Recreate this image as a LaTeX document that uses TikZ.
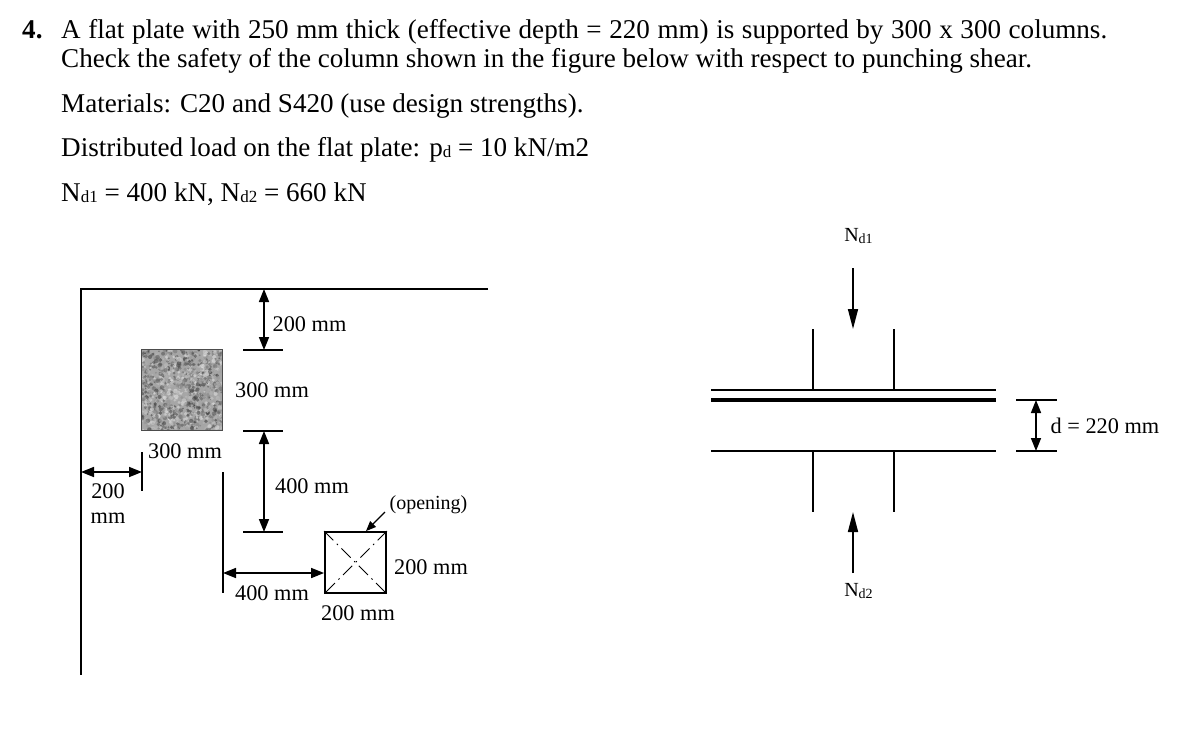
\documentclass[tikz,border=0pt]{standalone}
\usepackage{fontspec}
\setmainfont{Liberation Serif}
\usepackage{tikz}
\usetikzlibrary{arrows.meta}
\newcommand{\lowtxt}[1]{\raisebox{-1pt}{\fontsize{17}{17}\selectfont #1}}
\newcommand{\lowfig}[1]{\raisebox{-1.5pt}{\fontsize{14}{14}\selectfont #1}}
\tikzset{
  bodytxt/.style={anchor=base west,inner sep=0pt,font=\fontsize{27.1}{30}\selectfont},
  figtxt/.style={inner sep=0pt,font=\fontsize{22.3}{24}\selectfont},
  ln/.style={line width=1.8pt},
  dim/.style={line width=1.6pt,{Triangle[length=13pt,width=10pt]}-{Triangle[length=13pt,width=10pt]}},
  load/.style={line width=1.6pt,-{Triangle[length=20pt,width=10pt]}},
  crossln/.style={line width=1pt,dash pattern=on 13pt off 5pt on 1.5pt off 5pt},
}
\begin{document}
\begin{tikzpicture}[x=1pt,y=-1pt]
 \useasboundingbox (0,0) rectangle (1180,732);
 % question text
 \draw (22,38) node[bodytxt] (num) {\textbf{4.}};
 \draw (61,38) node[bodytxt] (line1) {\makebox[1046pt][s]{A flat plate with 250 mm thick (effective depth = 220 mm) is supported by 300 x 300 columns.}};
 \draw (61,67) node[bodytxt] (line2) {Check the safety of the column shown in the figure below with respect to punching shear.};
 \draw (61,112) node[bodytxt] (line3) {Materials: C20 and S420 (use design strengths).};
 \draw (61,156) node[bodytxt] (line4) {Distributed load on the flat plate: p\lowtxt{d} = 10 kN/m2};
 \draw (61,201) node[bodytxt] (line5) {N\lowtxt{d1} = 400 kN, N\lowtxt{d2} = 660 kN};

 % plan
 \coordinate (edgeo) at (81,289);
 \coordinate (edgee) at (488,289);
 \coordinate (edges) at (81,675);
 \draw[ln] (edgee) -- (edgeo) -- (edges);

 \draw (182,390) node[fill=black!35,minimum size=81pt,inner sep=0pt] (column) {};
 \begin{scope}
  \clip (column.south west) rectangle (column.north east);
  \pgfmathsetseed{42}
  \foreach \i in {1,...,1100} {
    \pgfmathsetmacro{\spotx}{142+rnd*80}
    \pgfmathsetmacro{\spoty}{350+rnd*80}
    \pgfmathsetmacro{\spotc}{8+rnd*72}
    \pgfmathsetmacro{\spotr}{0.8+rnd*1.5}
    \fill[black!\spotc!white,opacity=.55] (\spotx,\spoty) circle (\spotr pt);
  }
 \end{scope}
 \draw[black!70,line width=1pt] (column.south west) rectangle (column.north east);

 \coordinate (tickaw) at (243,350);
 \coordinate (tickae) at (283,350);
 \coordinate (tickbw) at (243,431);
 \coordinate (tickbe) at (283,431);
 \coordinate (tickcw) at (243,532);
 \coordinate (tickce) at (283,532);
 \coordinate (arrowo) at (264,289);
 \coordinate (arrowa) at (264,350);
 \coordinate (arrowb) at (264,431);
 \coordinate (arrowc) at (264,532);
 \path[ln] (tickaw) edge (tickae);
 \path[ln] (tickbw) edge (tickbe);
 \path[ln] (tickcw) edge (tickce);
 \path[dim] (arrowo) edge (arrowa);
 \path[dim] (arrowb) edge (arrowc);

 \coordinate (tickdn) at (142,452);
 \coordinate (tickds) at (142,491);
 \coordinate (tickfn) at (223,472);
 \coordinate (tickfs) at (223,593);
 \coordinate (arrowd) at (81,472);
 \coordinate (arrowe) at (142,472);
 \coordinate (arrowf) at (223,573);
 \path[ln] (tickdn) edge (tickds);
 \path[ln] (tickfn) edge (tickfs);
 \path[dim] (arrowd) edge (arrowe);

 \draw (355.5,562.5) node[draw,line width=1.8pt,minimum size=61pt,inner sep=0pt] (opening) {};
 \path[crossln] (opening.north west) edge (opening.south east);
 \path[crossln] (opening.north east) edge (opening.south west);
 \path[dim] (arrowf) edge (opening.west |- arrowf);
 \coordinate (leader) at (385,512);
 \path[line width=1.3pt,-{Triangle[length=10pt,width=8pt]}] (leader) edge (opening.north -| 366,0);

 \draw (309.5,324) node[figtxt] (d200a) {200 mm};
 \draw (272,390) node[figtxt] (d300a) {300 mm};
 \draw (185,451) node[figtxt] (d300b) {300 mm};
 \draw (108,491) node[figtxt] (d200b) {200};
 \draw (108,518) node[figtxt] (d200c) {mm};
 \draw (312,486) node[figtxt] (d400a) {400 mm};
 \draw (272,593) node[figtxt] (d400b) {400 mm};
 \draw (431,567) node[figtxt] (d200d) {200 mm};
 \draw (358,613) node[figtxt] (d200e) {200 mm};
 \draw (428.5,505) node[figtxt,font=\fontsize{20}{22}\selectfont] (openingtxt) {(opening)};

 % section
 \coordinate (topw) at (711,390);
 \coordinate (tope) at (996,390);
 \coordinate (midw) at (711,400);
 \coordinate (mide) at (996,400);
 \coordinate (botw) at (711,451);
 \coordinate (bote) at (996,451);
 \path[ln] (topw) edge (tope);
 \path[line width=4pt] (midw) edge (mide);
 \path[ln] (botw) edge (bote);

 \coordinate (colan) at (813,329);
 \coordinate (colas) at (813,390);
 \coordinate (colbn) at (894,329);
 \coordinate (colbs) at (894,390);
 \coordinate (colcn) at (813,451);
 \coordinate (colcs) at (813,512);
 \coordinate (coldn) at (894,451);
 \coordinate (colds) at (894,512);
 \path[ln] (colan) edge (colas);
 \path[ln] (colbn) edge (colbs);
 \path[ln] (colcn) edge (colcs);
 \path[ln] (coldn) edge (colds);

 \draw (858.5,236) node[figtxt,font=\fontsize{20}{22}\selectfont] (nd1) {N\lowfig{d1}};
 \draw (858.5,591) node[figtxt,font=\fontsize{20}{22}\selectfont] (nd2) {N\lowfig{d2}};
 \coordinate (loadat) at (853,268);
 \coordinate (loadah) at (853,329);
 \coordinate (loadbt) at (853,573);
 \coordinate (loadbh) at (853,512);
 \path[load] (loadat) edge (loadah);
 \path[load] (loadbt) edge (loadbh);

 \coordinate (dimaw) at (1016,400);
 \coordinate (dimae) at (1057,400);
 \coordinate (dimbw) at (1016,451);
 \coordinate (dimbe) at (1057,451);
 \coordinate (dima) at (1036,400);
 \coordinate (dimb) at (1036,451);
 \path[ln] (dimaw) edge (dimae);
 \path[ln] (dimbw) edge (dimbe);
 \path[dim] (dima) edge (dimb);
 \draw (1105,426) node[figtxt] (dlabel) {d = 220 mm};
\end{tikzpicture}
\end{document}
